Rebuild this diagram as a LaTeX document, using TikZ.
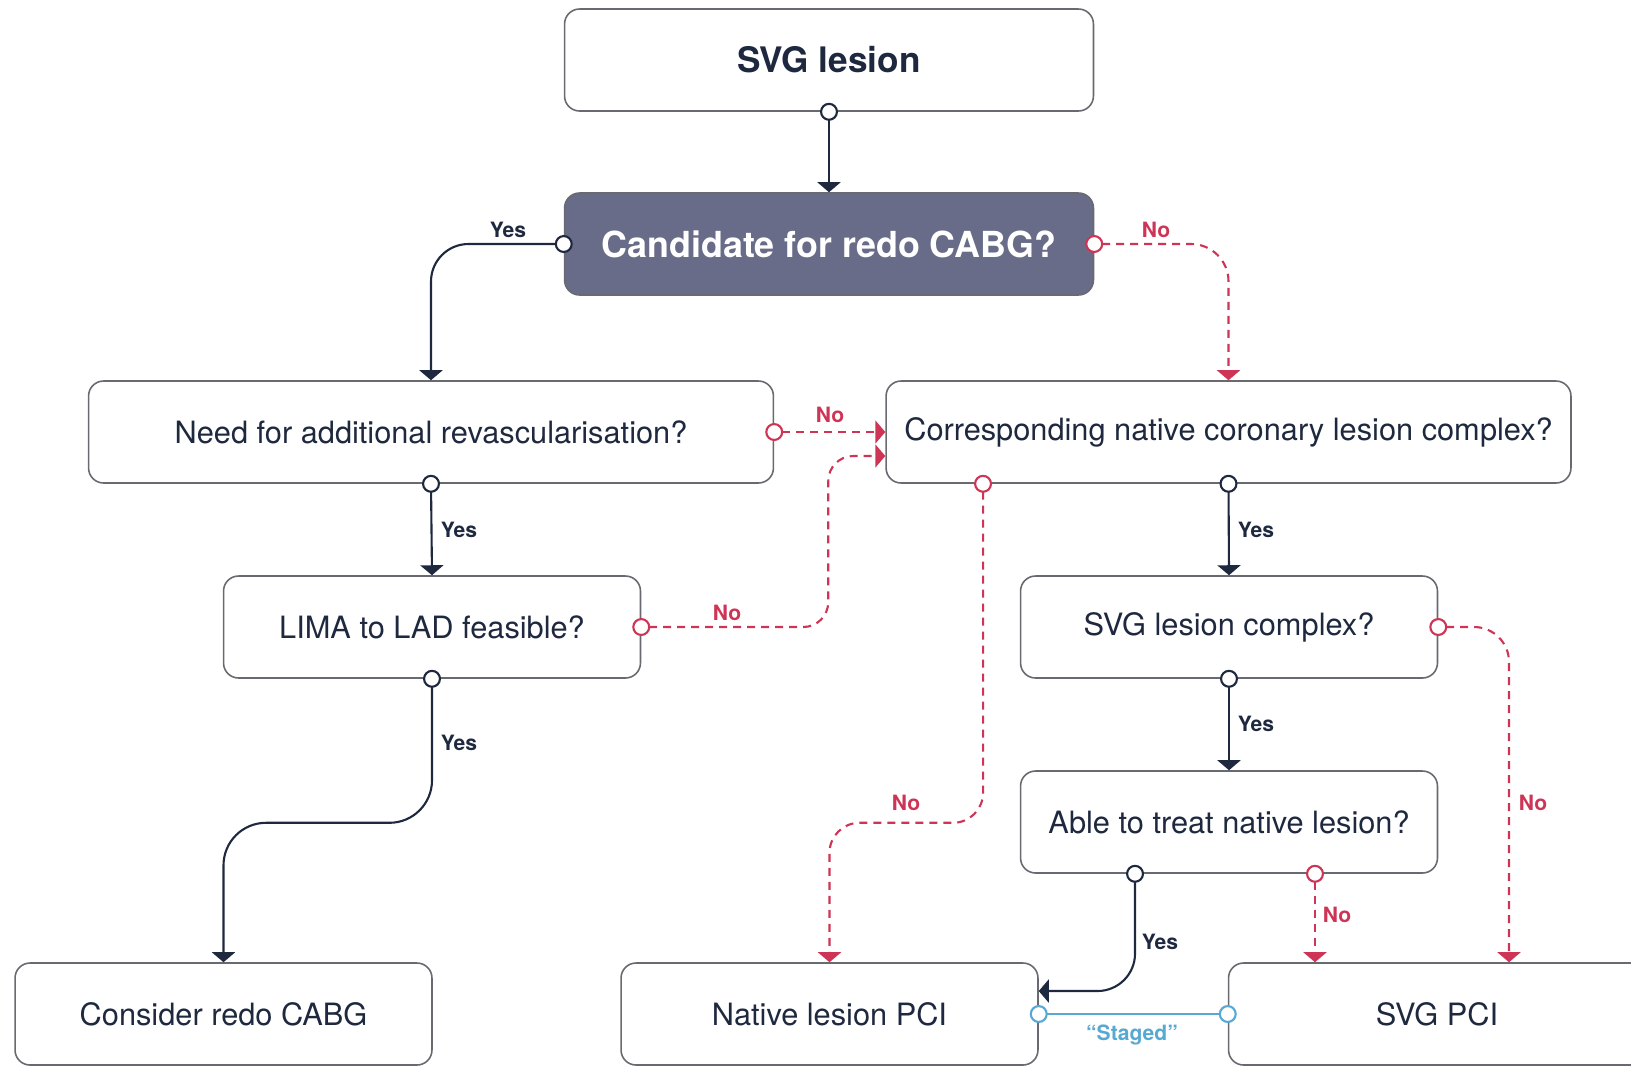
\documentclass[tikz,border=0pt]{standalone}
\usepackage{fontspec}
\setmainfont{TeX Gyre Heros}
\usetikzlibrary{arrows.meta}
\definecolor{navy}{RGB}{30,40,62}
\definecolor{boxgray}{RGB}{105,105,112}
\definecolor{candfill}{RGB}{104,108,136}
\definecolor{nored}{RGB}{206,52,86}
\definecolor{stageblue}{RGB}{88,168,212}
\begin{document}
\begin{tikzpicture}[x=0.02cm, y=-0.02cm,
  box/.style={draw=boxgray, line width=0.9pt, rounded corners=0.3cm, minimum height=2.04cm, text=navy, font=\fontsize{17.5}{20}\selectfont},
  wide/.style={box, minimum width=13.7cm},
  mid/.style={box, minimum width=10.58cm},
  small/.style={box, minimum width=8.34cm},
  lbl/.style={font=\fontsize{12}{14}\selectfont\bfseries, inner sep=1pt},
  yesline/.style={draw=navy, line width=1.2pt, rounded corners=0.75cm, shorten <=-0.18cm,
    {Circle[fill=white, length=0.36cm]}-{Triangle[width=0.46cm, length=0.2cm]}},
  noline/.style={draw=nored, line width=1.2pt, dash pattern=on 0.16cm off 0.12cm, rounded corners=0.6cm, shorten <=-0.18cm,
    {Circle[fill=white, length=0.36cm]}-{Triangle[width=0.46cm, length=0.2cm]}},
  stagedline/.style={draw=stageblue, line width=1.2pt, shorten <=-0.18cm, shorten >=-0.18cm,
    {Circle[fill=white, length=0.36cm]}-{Circle[fill=white, length=0.36cm]}}]
\useasboundingbox (0,0) rectangle (1631,1066);
% boxes
\node[mid, font=\fontsize{20}{24}\selectfont\bfseries] (svg) at (829,60) {SVG lesion};
\node[mid, fill=candfill, text=white, font=\fontsize{20.4}{24}\selectfont\bfseries] (cand) at (829,244) {Candidate for redo CABG?};
\node[wide] (need) at (431,432) {Need for additional revascularisation?};
\node[wide] (corr) at (1228.5,432) {Corresponding native coronary lesion complex?};
\node[small] (lima) at (432,627) {LIMA to LAD feasible?};
\node[small] (cplx) at (1229,627) {SVG lesion complex?};
\node[small] (able) at (1229,822) {Able to treat native lesion?};
\node[small] (redo) at (223.5,1014) {Consider redo CABG};
\node[small] (native) at (829.5,1014) {Native lesion PCI};
\node[small] (svgpci) at (1437,1014) {SVG PCI};
% yes branches
\path[yesline] (svg.south) -- (cand.north);
\path[yesline] (cand.west) -| (need.north);
\path[yesline] (need.south) -- (lima.north);
\path[yesline, rounded corners=0.85cm] (lima.south) -- ++(0,144) -| (redo.north);
\path[yesline] (corr.south) -- (cplx.north);
\path[yesline] (cplx.south) -- (able.north);
\path[yesline] ([xshift=-1.88cm]able.south) |- ([yshift=0.46cm]native.east);
% no branches
\path[noline, rounded corners=0.75cm] (cand.east) -| (corr.north);
\path[noline] (need.east) -- (corr.west);
\path[noline, rounded corners=0.5cm] (lima.east) -- ++(187,0) |- ([yshift=-0.48cm]corr.west);
\path[noline] ([xshift=-4.91cm]corr.south) -- ++(0,339) -| (native.north);
\path[noline, rounded corners=0.7cm] (cplx.east) -| ([xshift=1.44cm]svgpci.north);
\path[noline] ([xshift=1.72cm]able.south) -- ([xshift=1.72cm]able.south |- svgpci.north);
% staged
\path[stagedline] (native.east) -- (svgpci.west);
% labels
\node[lbl, text=navy] (ycand) at (508,230) {Yes};
\node[lbl, text=nored] (ncand) at (1156,230) {No};
\node[lbl, text=nored] (nneed) at (830,415) {No};
\node[lbl, text=navy] (yneed) at (459,530) {Yes};
\node[lbl, text=nored] (nlima) at (727,613) {No};
\node[lbl, text=navy] (ylima) at (459,743) {Yes};
\node[lbl, text=nored] (ncorr) at (906,803) {No};
\node[lbl, text=navy] (ycorr) at (1256,530) {Yes};
\node[lbl, text=nored] (ncplx) at (1533,803) {No};
\node[lbl, text=navy] (ycplx) at (1256,724) {Yes};
\node[lbl, text=navy] (yable) at (1160,942) {Yes};
\node[lbl, text=nored] (nable) at (1337,915) {No};
\node[lbl, text=stageblue] (staged) at (1132,1035) {“Staged”};
\end{tikzpicture}
\end{document}
